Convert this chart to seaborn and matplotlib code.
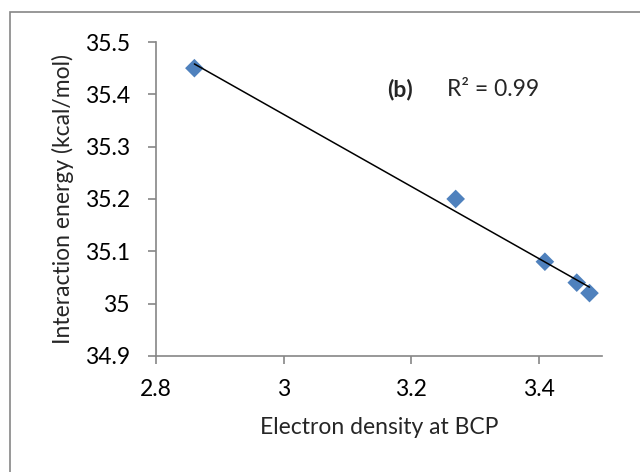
import seaborn as sns
import matplotlib.pyplot as plt
import pandas as pd
from matplotlib.ticker import FuncFormatter
from matplotlib.patches import Rectangle

# values
density = [2.86, 3.27, 3.41, 3.46, 3.48]
energy = [35.45, 35.20, 35.08, 35.04, 35.02]
x_ticks = [2.8, 3.0, 3.2, 3.4]
y_ticks = [34.9, 35.0, 35.1, 35.2, 35.3, 35.4, 35.5]

df = pd.DataFrame({"density": density, "energy": energy})

sns.set_style("ticks")
plt.rcParams["font.family"] = ["Lato", "DejaVu Sans"]

fig = plt.figure(figsize=(6.4, 4.72), dpi=100)
ax = fig.add_axes([0.244, 0.246, 0.697, 0.665])

sns.regplot(data=df, x="density", y="energy", ax=ax, ci=None, marker="D",
            scatter_kws={"s": 90, "color": "#4F81BD", "edgecolor": "none", "alpha": 1},
            line_kws={"color": "black", "linewidth": 1.1})

ax.set_xlim(2.8, 3.5)
ax.set_ylim(34.9, 35.5)
ax.set_xticks(x_ticks)
ax.set_yticks(y_ticks)
fmt = FuncFormatter(lambda v, p: "%g" % round(v, 2))
ax.xaxis.set_major_formatter(fmt)
ax.yaxis.set_major_formatter(fmt)

for s in ["top", "right"]:
    ax.spines[s].set_visible(False)
for s in ["left", "bottom"]:
    ax.spines[s].set_color("#868686")
    ax.spines[s].set_linewidth(1.2)
ax.tick_params(axis="both", direction="out", length=6, width=1.2, color="#868686",
               labelsize=16.5, labelcolor="black")
ax.tick_params(axis="x", pad=11)
ax.tick_params(axis="y", pad=13)

ax.set_xlabel("Electron density at BCP", fontsize=16.5, labelpad=12)
ax.set_ylabel("Interaction energy (kcal/mol)", fontsize=16.5, labelpad=8)

ax.text(0.625, 0.81, "(b)", transform=fig.transFigure, ha="center", va="center",
        fontsize=16.5, fontweight="bold")
ax.text(0.77, 0.81, "R² = 0.99", transform=fig.transFigure, ha="center", va="center",
        fontsize=16.5)

# chart area border (only top/left visible in the original crop)
fig.patches.append(Rectangle((10 / 640, -0.1), 1.0, 1 - 12 / 472 + 0.1,
                             transform=fig.transFigure, fill=False,
                             edgecolor="#868686", linewidth=1.2))

fig.savefig("out.png", dpi=100)
